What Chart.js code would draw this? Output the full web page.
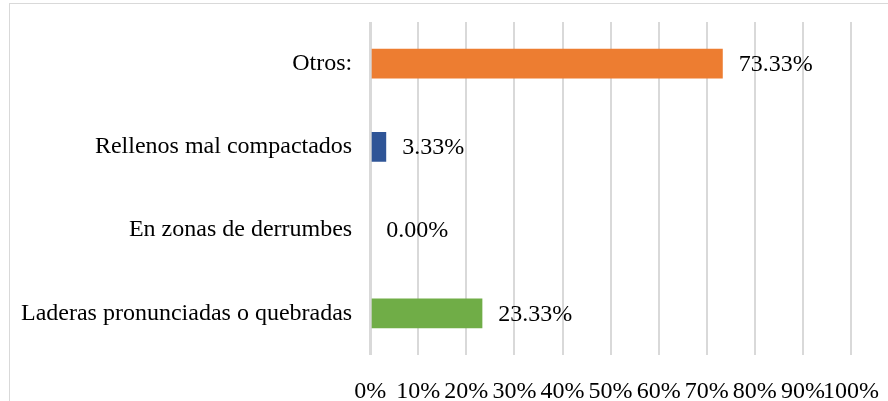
<!DOCTYPE html>
<html>
<head>
<meta charset="utf-8">
<script src="https://cdn.jsdelivr.net/npm/chart.js@4.4.1/dist/chart.umd.min.js"></script>
<style>
  html, body { margin: 0; padding: 0; background: #fff; overflow: hidden; }
  #wrap { position: relative; width: 888px; height: 401px; }
  #frame { position: absolute; left: 9px; top: 3px; width: 900px; height: 420px; border: 1px solid #d9d9d9; box-sizing: border-box; }
  canvas { position: absolute; left: 0; top: 0; }
</style>
</head>
<body>
<div id="wrap">
  <div id="frame"></div>
  <canvas id="c" width="888" height="401"></canvas>
</div>
<script>
const categories = ["Otros:", "Rellenos mal compactados", "En zonas de derrumbes", "Laderas pronunciadas o quebradas"];
const values = [73.33, 3.33, 0.00, 23.33];
const barColors = ["#ED7D31", "#2F5597", "#A5A5A5", "#70AD47"];
const tickValues = [0, 10, 20, 30, 40, 50, 60, 70, 80, 90, 100];

const FONT = "'Liberation Serif', 'Times New Roman', serif";

const valueLabels = {
  id: 'valueLabels',
  afterDatasetsDraw(chart) {
    const ctx = chart.ctx;
    const meta = chart.getDatasetMeta(0);
    ctx.save();
    ctx.font = "24px " + FONT;
    ctx.fillStyle = "#000";
    ctx.textAlign = "left";
    ctx.textBaseline = "middle";
    meta.data.forEach((bar, i) => {
      ctx.fillText(values[i].toFixed(2) + "%", bar.x + 16, bar.y + 1);
    });
    ctx.restore();
  }
};

new Chart(document.getElementById('c'), {
  type: 'bar',
  data: {
    labels: categories,
    datasets: [{
      data: values,
      backgroundColor: barColors,
      borderWidth: 0,
      categoryPercentage: 1,
      barPercentage: 0.36
    }]
  },
  options: {
    indexAxis: 'y',
    responsive: false,
    animation: false,
    devicePixelRatio: 1,
    layout: { padding: { left: 3, right: 37, top: 22, bottom: -28 } },
    plugins: { legend: { display: false }, tooltip: { enabled: false } },
    scales: {
      x: {
        min: 0, max: 100,
        afterBuildTicks(axis) { axis.ticks = tickValues.map(v => ({ value: v })); },
        grid: {
          color: "#d9d9d9",
          lineWidth: (c) => (c.tick && c.tick.value === 0 ? 3 : 2),
          drawTicks: false
        },
        border: { display: false },
        ticks: {
          autoSkip: false, maxRotation: 0, minRotation: 0,
          padding: 4,
          color: "#000",
          font: { family: FONT, size: 24, lineHeight: 2.75 },
          callback: (v) => v + "%"
        }
      },
      y: {
        grid: { display: false, drawTicks: false },
        border: { display: false },
        ticks: {
          padding: 18,
          color: "#000",
          font: { family: FONT, size: 24, lineHeight: 0.3 }
        }
      }
    }
  },
  plugins: [valueLabels]
});
</script>
</body>
</html>
